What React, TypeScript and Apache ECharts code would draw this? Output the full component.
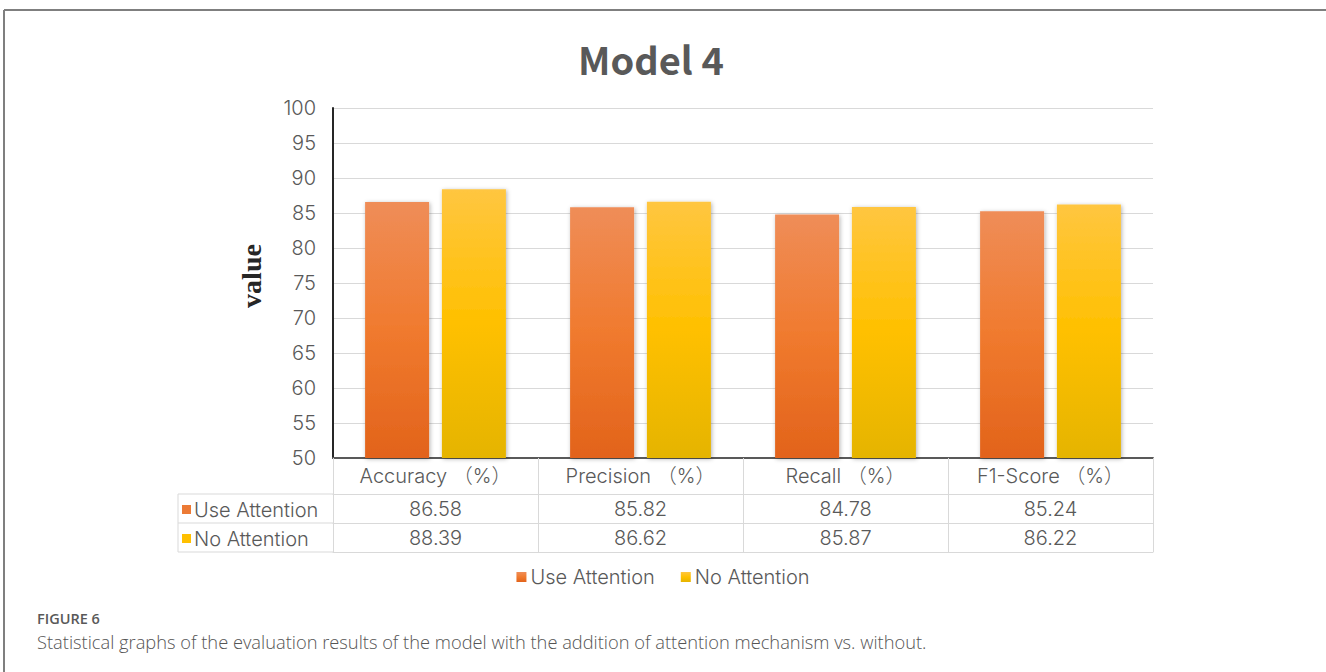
import React, { useEffect, useRef } from "react";
import * as echarts from "echarts";

const categories = ["Accuracy （%）", "Precision （%）", "Recall （%）", "F1-Score （%）"];
const useAttention = [86.58, 85.82, 84.78, 85.24];
const noAttention = [88.39, 86.62, 85.87, 86.22];
const seriesNames = ["Use Attention", "No Attention"];
const yMin = 50;
const yMax = 100;
const yStep = 5;
const titleText = "Model 4";
const yName = "value";
const figureLabel = "FIGURE 6";
const captionText =
  "Statistical graphs of the evaluation results of the model with the addition of attention mechanism vs. without.";

const FONT = "Inter, 'Noto Sans CJK SC', sans-serif";
const FW = 300;
const TXT = "#595959";
const GRIDC = "#d9d9d9";

const orangeGrad = new echarts.graphic.LinearGradient(0, 0, 0, 1, [
  { offset: 0, color: "#EF8D58" },
  { offset: 0.5, color: "#F07A2E" },
  { offset: 1, color: "#E2631B" },
]);
const yellowGrad = new echarts.graphic.LinearGradient(0, 0, 0, 1, [
  { offset: 0, color: "#FFC640" },
  { offset: 0.5, color: "#FFC000" },
  { offset: 1, color: "#E5B400" },
]);

export default function App() {
  const ref = useRef<HTMLDivElement>(null);
  useEffect(() => {
    if (!ref.current) return;
    const chart = echarts.init(ref.current, undefined, { renderer: "svg" });
    const fmt = (vals: number[]) => (_v: string, i: number) => vals[i].toFixed(2);
    const lbl = { fontFamily: FONT, fontWeight: FW, fontSize: 20, color: TXT };
    const baseX = {
      type: "category",
      data: categories,
      position: "bottom",
      boundaryGap: true,
      axisTick: { show: false },
      splitLine: { show: false },
    };
    const tableLeft = 178;
    const gridLeft = 333;
    const rowLines = [494, 523, 552];
    chart.setOption({
      animation: false,
      title: {
        text: titleText,
        left: 646,
        top: 34,
        textAlign: "center",
        textStyle: { fontFamily: "'Noto Sans CJK SC', sans-serif", fontSize: 38, fontWeight: "bold", color: TXT },
      },
      legend: {
        data: seriesNames,
        bottom: 672 - 592,
        left: "center",
        itemWidth: 10,
        itemHeight: 10,
        itemGap: 26,
        icon: "rect",
        textStyle: { ...lbl, padding: [0, 0, 0, -1] },
      },
      grid: { left: gridLeft, right: 173, top: 108, bottom: 214 },
      xAxis: [
        {
          ...baseX,
          axisLine: { show: true, lineStyle: { color: "#595959", width: 2 } },
          axisTick: { show: true, length: 94, lineStyle: { color: GRIDC, width: 1 } },
          axisLabel: { ...lbl, margin: 8 },
        },
        {
          ...baseX,
          offset: 36,
          axisLine: { show: true, lineStyle: { color: GRIDC, width: 1 } },
          axisLabel: { ...lbl, margin: 5, formatter: fmt(useAttention) },
        },
        {
          ...baseX,
          offset: 65,
          axisLine: { show: true, lineStyle: { color: GRIDC, width: 1 } },
          axisLabel: { ...lbl, margin: 5, formatter: fmt(noAttention) },
        },
        {
          ...baseX,
          offset: 94,
          axisLine: { show: true, lineStyle: { color: GRIDC, width: 1 } },
          axisLabel: { show: false },
        },
      ],
      yAxis: {
        type: "value",
        min: yMin,
        max: yMax,
        interval: yStep,
        name: yName,
        nameLocation: "middle",
        nameGap: 68,
        nameRotate: 90,
        nameTextStyle: {
          fontFamily: "'Liberation Serif', serif",
          fontWeight: "bold",
          fontSize: 28,
          color: "#262626",
          padding: [0, 0, 0, 14],
        },
        axisLine: { show: true, lineStyle: { color: "#262626", width: 2 } },
        axisTick: { show: false },
        axisLabel: { ...lbl, margin: 17 },
        splitLine: { show: true, lineStyle: { color: GRIDC, width: 1 } },
      },
      series: [
        {
          name: seriesNames[0],
          type: "bar",
          data: useAttention,
          barWidth: 64,
          barGap: "20%",
          itemStyle: {
            color: orangeGrad,
            shadowBlur: 4,
            shadowColor: "rgba(0,0,0,0.3)",
            shadowOffsetX: 1,
            shadowOffsetY: 1,
          },
        },
        {
          name: seriesNames[1],
          type: "bar",
          data: noAttention,
          barWidth: 64,
          barGap: "20%",
          itemStyle: {
            color: yellowGrad,
            shadowBlur: 4,
            shadowColor: "rgba(0,0,0,0.3)",
            shadowOffsetX: 1,
            shadowOffsetY: 1,
          },
        },
      ],
      graphic: [
        { type: "line", shape: { x1: 4, y1: 10, x2: 1326, y2: 10 }, style: { stroke: "#7f7f7f", lineWidth: 2 } },
        { type: "line", shape: { x1: 4, y1: 10, x2: 4, y2: 672 }, style: { stroke: "#7f7f7f", lineWidth: 2 } },
        ...rowLines.map((y) => ({
          type: "line",
          shape: { x1: tableLeft, y1: y, x2: gridLeft, y2: y },
          style: { stroke: GRIDC, lineWidth: 1 },
        })),
        {
          type: "line",
          shape: { x1: tableLeft, y1: rowLines[0], x2: tableLeft, y2: rowLines[2] },
          style: { stroke: GRIDC, lineWidth: 1 },
        },
        ...seriesNames.flatMap((name, i) => {
          const cy = (rowLines[i] + rowLines[i + 1]) / 2 + 1;
          return [
            {
              type: "rect",
              shape: { x: 182, y: cy - 4.5, width: 9, height: 9 },
              style: { fill: i === 0 ? "#EC7A35" : "#FFC000" },
            },
            {
              type: "text",
              x: 194,
              y: cy,
              style: {
                text: name,
                fontFamily: FONT,
                fontWeight: FW,
                fontSize: 20,
                fill: TXT,
                textVerticalAlign: "middle",
                textAlign: "left",
              },
            },
          ];
        }),
        {
          type: "text",
          x: 37,
          y: 618,
          style: {
            text: figureLabel,
            fontFamily: "'Open Sans', sans-serif",
            fontWeight: 600,
            fontSize: 14.5,
            fill: "#595959",
            textVerticalAlign: "middle",
          },
        },
        {
          type: "text",
          x: 37,
          y: 641,
          style: {
            text: captionText,
            fontFamily: "'Open Sans', sans-serif",
            fontWeight: 300,
            fontSize: 18.3,
            fill: "#555555",
            textVerticalAlign: "middle",
          },
        },
      ],
    });
    return () => chart.dispose();
  }, []);
  return (
    <div
      ref={ref}
      style={{ position: "fixed", left: 0, top: 0, width: 1326, height: 672, background: "#fff" }}
    />
  );
}
